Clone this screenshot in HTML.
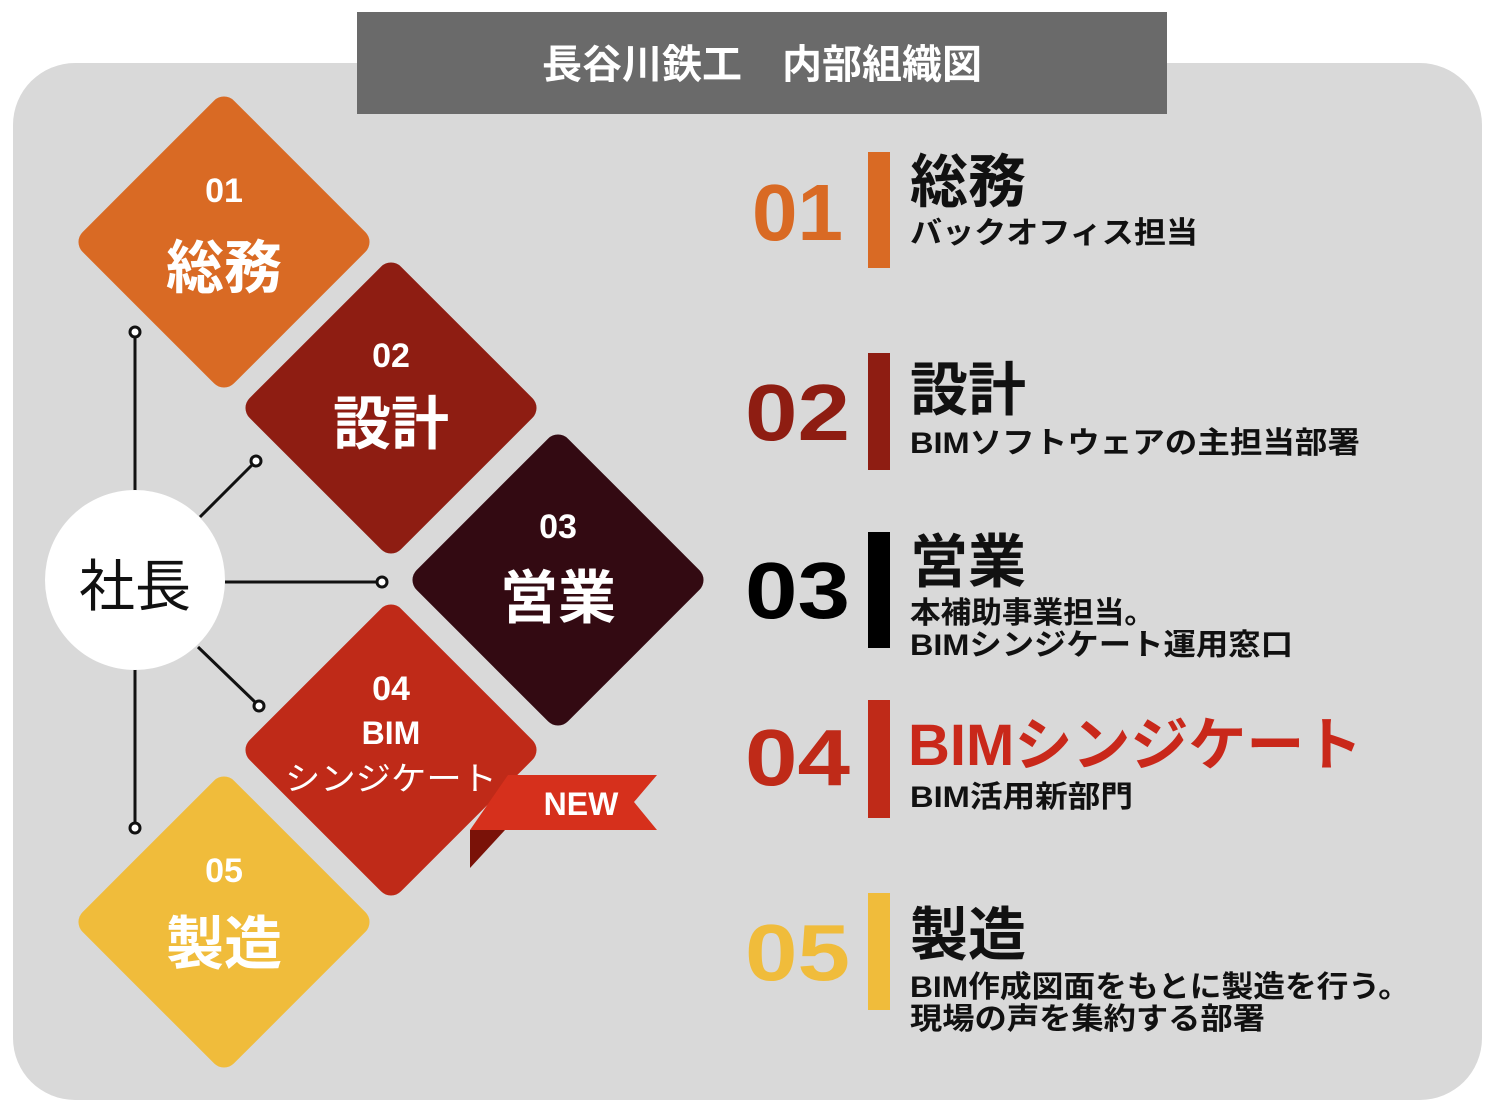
<!DOCTYPE html>
<html><head><meta charset="utf-8"><style>
html,body{margin:0;padding:0;background:#fff;}
svg{display:block;}
text{font-family:"Liberation Sans","Noto Sans CJK JP",sans-serif;}
</style></head><body>
<svg width="1496" height="1120" viewBox="0 0 1496 1120" xmlns="http://www.w3.org/2000/svg">
<rect x="13" y="63" width="1469" height="1037" rx="62" fill="#d9d9d9"/>
<rect x="357" y="12" width="810" height="102" fill="#6a6a6a"/>
<text x="762" y="78" font-size="40" font-weight="bold" fill="#fff" text-anchor="middle">長谷川鉄工　内部組織図</text>

<g stroke="#111" stroke-width="3" fill="none">
<line x1="135" y1="338" x2="135" y2="822"/>
<line x1="200" y1="517" x2="252" y2="465"/>
<line x1="225" y1="582" x2="376" y2="582"/>
<line x1="198" y1="647" x2="255" y2="702"/>
</g>
<g stroke="#111" stroke-width="3" fill="#fff">
<circle cx="135" cy="332" r="5"/>
<circle cx="135" cy="828" r="5"/>
<circle cx="256" cy="461" r="5"/>
<circle cx="382" cy="582" r="5"/>
<circle cx="259" cy="706" r="5"/>
</g>
<circle cx="135" cy="580" r="90" fill="#fff"/>
<text x="135" y="606" font-size="56" fill="#111" text-anchor="middle">社長</text>

<g>
<rect x="117" y="135" width="214" height="214" rx="14" fill="#d96a24" transform="rotate(45 224 242)"/>
<rect x="284" y="301" width="214" height="214" rx="14" fill="#8e1d12" transform="rotate(45 391 408)"/>
<rect x="451" y="473" width="214" height="214" rx="14" fill="#330a12" transform="rotate(45 558 580)"/>
<rect x="284" y="643" width="214" height="214" rx="14" fill="#bf2a18" transform="rotate(45 391 750)"/>
<rect x="117" y="815" width="214" height="214" rx="14" fill="#f0bc3b" transform="rotate(45 224 922)"/>
</g>
<g fill="#fff" text-anchor="middle" font-weight="bold">
<text x="224" y="202" font-size="34">01</text>
<text x="224" y="288" font-size="58">総務</text>
<text x="391" y="367" font-size="34">02</text>
<text x="391" y="444" font-size="58">設計</text>
<text x="558" y="538" font-size="34">03</text>
<text x="558" y="618" font-size="58">営業</text>
<text x="391" y="700" font-size="34">04</text>
<text x="391" y="744" font-size="32">BIM</text>
<text x="391" y="790" font-size="33" font-weight="normal" textLength="212" lengthAdjust="spacingAndGlyphs">シンジケート</text>
<text x="224" y="882" font-size="34">05</text>
<text x="224" y="964" font-size="58">製造</text>
</g>

<polygon points="470,830 505,830 470,868" fill="#7a1208"/>
<polygon points="508,775 657,775 634,802 657,830 470,830" fill="#d6301c"/>
<text x="581" y="815" font-size="32" font-weight="bold" fill="#fff" text-anchor="middle">NEW</text>

<g font-weight="bold" font-size="80" lengthAdjust="spacingAndGlyphs">
<text x="752" y="240" fill="#d96a24" textLength="91" lengthAdjust="spacingAndGlyphs">01</text>
<text x="745" y="440" fill="#8e1d12" textLength="105" lengthAdjust="spacingAndGlyphs">02</text>
<text x="745" y="618" fill="#000" textLength="105" lengthAdjust="spacingAndGlyphs">03</text>
<text x="745" y="785" fill="#bf2a18" textLength="105" lengthAdjust="spacingAndGlyphs">04</text>
<text x="745" y="980" fill="#f0bc3b" textLength="105" lengthAdjust="spacingAndGlyphs">05</text>
</g>
<rect x="868" y="152" width="22" height="116" fill="#d96a24"/>
<rect x="868" y="353" width="22" height="117" fill="#8e1d12"/>
<rect x="868" y="532" width="22" height="116" fill="#000"/>
<rect x="868" y="700" width="22" height="118" fill="#bf2a18"/>
<rect x="868" y="893" width="22" height="117" fill="#f0bc3b"/>

<g fill="#111" font-weight="bold">
<text x="910" y="202" font-size="58">総務</text>
<text x="910" y="243" font-size="30" textLength="288" lengthAdjust="spacingAndGlyphs">バックオフィス担当</text>
<text x="910" y="410" font-size="58">設計</text>
<text x="910" y="453" font-size="30" textLength="450" lengthAdjust="spacingAndGlyphs">BIMソフトウェアの主担当部署</text>
<text x="910" y="582" font-size="58">営業</text>
<text x="910" y="623" font-size="30" textLength="245" lengthAdjust="spacingAndGlyphs">本補助事業担当。</text>
<text x="910" y="655" font-size="30" textLength="383" lengthAdjust="spacingAndGlyphs">BIMシンジケート運用窓口</text>
<text x="908" y="765" font-size="58" fill="#c9281a">BIMシンジケート</text>
<text x="910" y="807" font-size="30" textLength="223" lengthAdjust="spacingAndGlyphs">BIM活用新部門</text>
<text x="910" y="955" font-size="58">製造</text>
<text x="910" y="997" font-size="30" textLength="500" lengthAdjust="spacingAndGlyphs">BIM作成図面をもとに製造を行う。</text>
<text x="910" y="1029" font-size="30" textLength="355" lengthAdjust="spacingAndGlyphs">現場の声を集約する部署</text>
</g>
</svg>
</body></html>
